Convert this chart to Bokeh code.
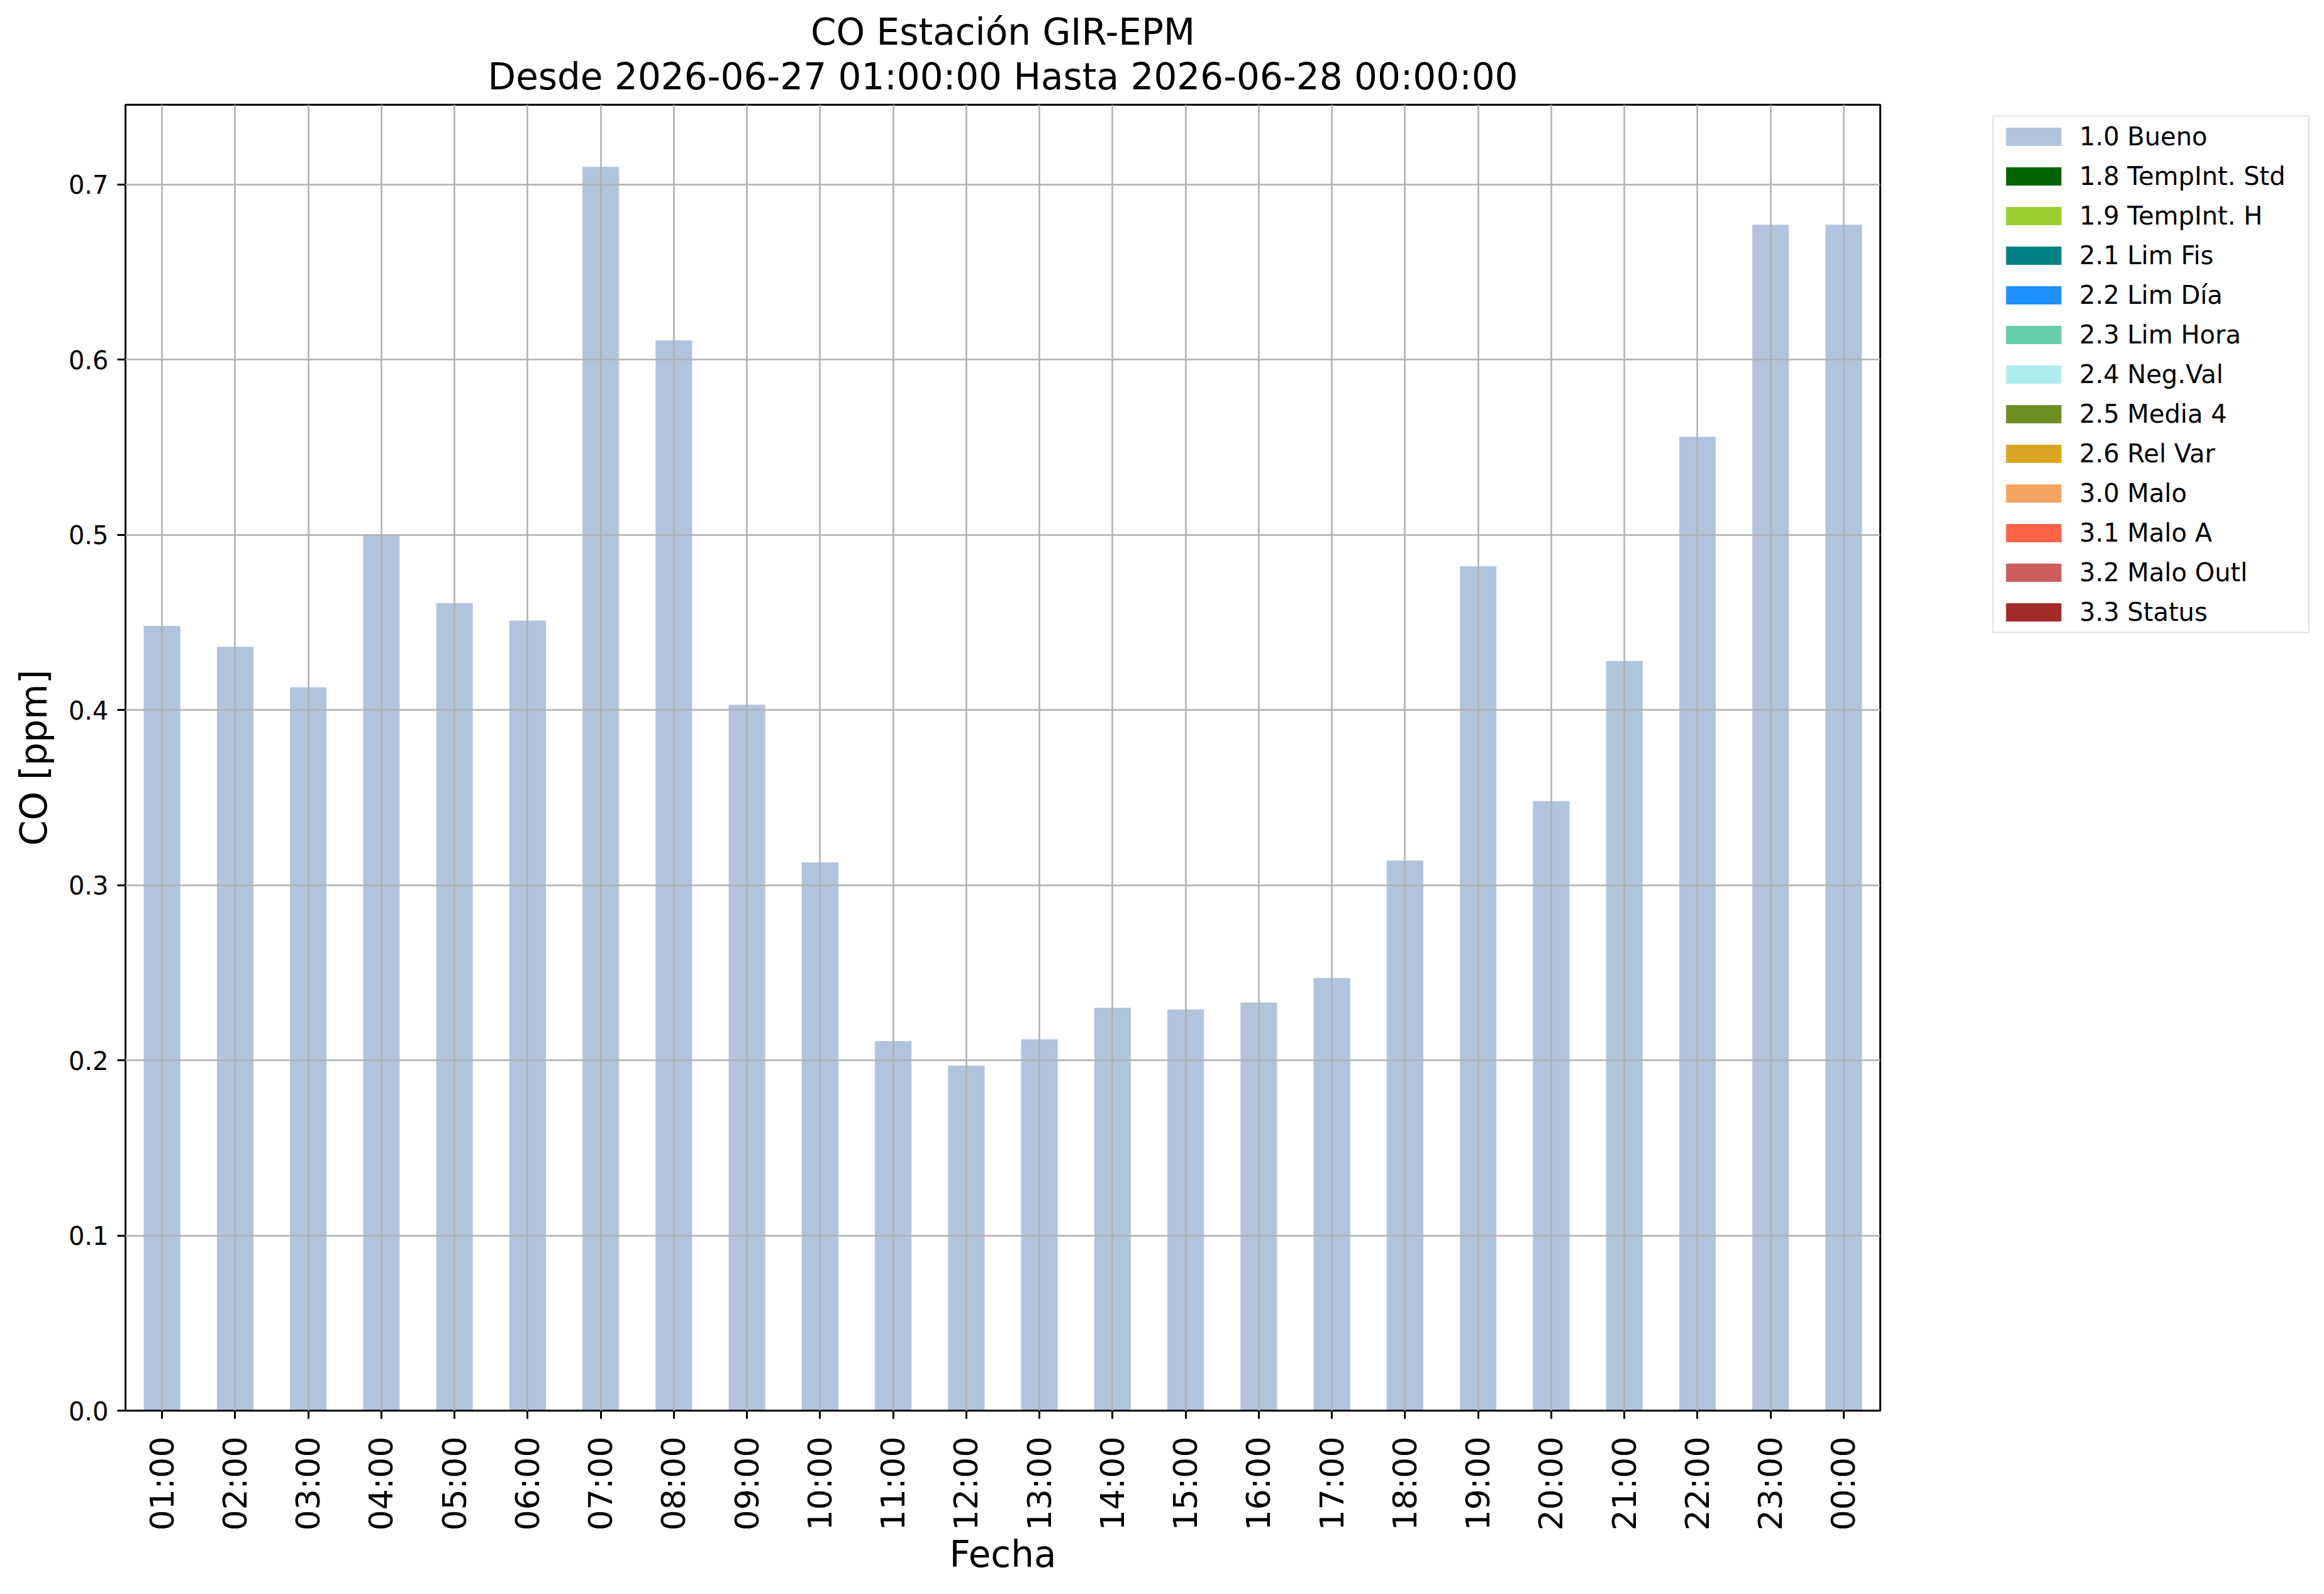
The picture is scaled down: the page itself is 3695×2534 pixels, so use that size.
import math
from bokeh.plotting import figure
from bokeh.models import (FactorRange, Range1d, FixedTicker, PrintfTickFormatter,
                          Legend, LegendItem, Title)
from bokeh.embed import file_html
from bokeh.resources import INLINE

# ---- data ----
hours = ["01:00", "02:00", "03:00", "04:00", "05:00", "06:00", "07:00", "08:00",
         "09:00", "10:00", "11:00", "12:00", "13:00", "14:00", "15:00", "16:00",
         "17:00", "18:00", "19:00", "20:00", "21:00", "22:00", "23:00", "00:00"]
bueno = [0.448, 0.436, 0.413, 0.500, 0.461, 0.451, 0.710, 0.611,
         0.403, 0.313, 0.211, 0.197, 0.212, 0.230, 0.229, 0.233,
         0.247, 0.314, 0.482, 0.348, 0.428, 0.556, 0.677, 0.677]
series_labels = ["1.0 Bueno", "1.8 TempInt. Std", "1.9 TempInt. H", "2.1 Lim Fis",
                 "2.2 Lim Día", "2.3 Lim Hora", "2.4 Neg.Val", "2.5 Media 4",
                 "2.6 Rel Var", "3.0 Malo", "3.1 Malo A", "3.2 Malo Outl", "3.3 Status"]
series_colors = ["#B0C4DE", "#006400", "#9ACD32", "#008080", "#1E90FF", "#66CDAA",
                 "#AFEEEE", "#6B8E23", "#DAA520", "#F4A460", "#FF6347", "#CD5C5C",
                 "#A52A2A"]
y_ticks = [0.0, 0.1, 0.2, 0.3, 0.4, 0.5, 0.6, 0.7]
title_line1 = "CO Estación GIR-EPM"
title_line2 = "Desde 2026-06-27 01:00:00 Hasta 2026-06-28 00:00:00"
x_label = "Fecha"
y_label = "CO [ppm]"

FONT = "DejaVu Sans"

p = figure(x_range=FactorRange(factors=hours), y_range=Range1d(0, max(bueno) * 1.05),
           frame_width=2790, frame_height=2076,
           min_border_left=199, min_border_top=166, min_border_right=690,
           min_border_bottom=280,
           output_backend="svg", toolbar_location=None)

p.title.visible = False
t2 = Title(text=title_line2, align="center", text_font=FONT, text_font_size="58px",
           text_font_style="normal", text_color="black", standoff=22)
t1 = Title(text=title_line1, align="center", text_font=FONT, text_font_size="58px",
           text_font_style="normal", text_color="black", standoff=-20)
p.add_layout(t2, "above")
p.add_layout(t1, "above")

# bars: the quality-flag series (all other categories) are stacked on top of
# "1.0 Bueno" with zero thickness, as in the reference
renderers = []
r0 = p.vbar(x=hours, top=bueno, width=0.5, fill_color=series_colors[0], line_color=None)
renderers.append(r0)
for c in series_colors[1:]:
    r = p.vbar(x=hours, bottom=bueno, top=bueno, width=0.5, fill_color=c, line_color=None)
    renderers.append(r)

# grid
for g in (p.xgrid, p.ygrid):
    g.grid_line_color = "#b0b0b0"
    g.grid_line_width = 2.5
    g.level = "overlay"

# axes
p.outline_line_color = "black"
p.outline_line_width = 3
p.outline_line_alpha = 1
for ax in (p.xaxis, p.yaxis):
    ax.axis_line_color = "black"
    ax.axis_line_width = 3
    ax.major_tick_line_color = "black"
    ax.major_tick_line_width = 3
    ax.major_tick_out = 13
    ax.major_tick_in = 0
    ax.minor_tick_line_color = None
    ax.major_label_text_font = FONT
    ax.major_label_text_color = "black"
    ax.axis_label_text_font = FONT
    ax.axis_label_text_font_style = "normal"
    ax.axis_label_text_font_size = "58px"
    ax.axis_label_text_color = "black"

p.yaxis.ticker = FixedTicker(ticks=y_ticks)
p.yaxis.formatter = PrintfTickFormatter(format="%.1f")
p.yaxis.major_label_text_font_size = "40px"
p.yaxis.major_label_standoff = 14
p.yaxis.axis_label = y_label
p.yaxis.axis_label_standoff = 18

p.xaxis.major_label_orientation = math.pi / 2
p.xaxis.major_label_text_font_size = "52px"
p.xaxis.major_label_standoff = 28
p.xaxis.axis_label = x_label
p.xaxis.axis_label_standoff = 1

legend = Legend(items=[LegendItem(label=l, renderers=[r]) for l, r in zip(series_labels, renderers)],
                location=(178, 1235))
legend.label_text_font = FONT
legend.label_text_font_size = "40px"
legend.label_text_color = "black"
legend.glyph_width = 110
legend.glyph_height = 36
legend.label_height = 36
legend.label_width = 355
legend.label_standoff = 18
legend.spacing = 17
legend.padding = 8
legend.margin = 0
legend.border_line_color = "#d6d6d6"
legend.border_line_width = 3
legend.background_fill_color = "white"
legend.background_fill_alpha = 1
p.add_layout(legend, "right")

open("out.html", "w").write(file_html(p, INLINE))
